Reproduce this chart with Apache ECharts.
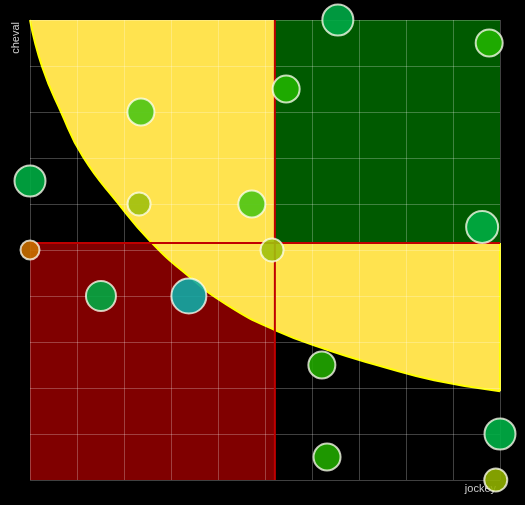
<!DOCTYPE html>
<html>
<head>
<meta charset="utf-8">
<script src="https://cdn.jsdelivr.net/npm/echarts@6/dist/echarts.min.js"></script>
<style>html,body{margin:0;padding:0;background:#000;}#c{width:525px;height:505px;}</style>
</head>
<body>
<div id="c"></div>
<script>
// axis names
var xName = 'jockey';
var yName = 'cheval';
// split thresholds
var splitX = 5.21;
var splitY = 5.15;
// frontier curve
var curveX = [0, 0.26, 0.66, 1.13, 1.87, 2.55, 3.34, 4.2, 5.21, 6.32, 7.45, 8.6, 10];
var curveY = [10, 8.98, 8.0, 7.02, 6.02, 5.2, 4.46, 3.8, 3.26, 2.83, 2.48, 2.17, 1.93];
// scatter points
var pointX = [6.55, 9.77, 5.45, 2.36, 0, 2.32, 4.72, 9.62, 0, 5.15, 1.51, 3.38, 6.21, 10, 6.32, 9.91];
var pointY = [10, 9.5, 8.5, 8.0, 6.5, 6.0, 6.0, 5.5, 5.0, 5.0, 4.0, 4.0, 2.5, 1.0, 0.5, 0];
var pointSize = [31, 27, 27, 27, 31, 23, 27, 32, 19, 23, 30, 35, 27, 31, 27, 23];
var pointColor = ['#00a846', '#21b300', '#21b300', '#4cc414', '#00ac43', '#a0bf0d', '#4cc414', '#00ac43',
                  '#c86e00', '#a0bf0d', '#00a843', '#10aaa5', '#21a700', '#00b046', '#21a700', '#90b000'];

var curveData = curveX.map(function (x, i) { return [x, curveY[i]]; });
var pointData = pointX.map(function (x, i) {
  return { value: [x, pointY[i]], symbolSize: pointSize[i], itemStyle: { color: pointColor[i] } };
});

function rectItem(params, api) {
  var p0 = api.coord([api.value(0), api.value(1)]);
  var p1 = api.coord([api.value(2), api.value(3)]);
  return {
    type: 'rect',
    shape: { x: Math.min(p0[0], p1[0]), y: Math.min(p0[1], p1[1]), width: Math.abs(p1[0] - p0[0]), height: Math.abs(p1[1] - p0[1]) },
    style: { fill: api.visual('color') }
  };
}

var chart = echarts.init(document.getElementById('c'));
chart.setOption({
  backgroundColor: '#000000',
  animation: false,
  grid: { left: 30, right: 25, top: 20, bottom: 25 },
  xAxis: {
    type: 'value', min: 0, max: 10, interval: 1, z: 4,
    axisLine: { show: false }, axisTick: { show: false }, axisLabel: { show: false },
    splitLine: { show: true, lineStyle: { color: 'rgba(255,255,255,0.25)', width: 1 } }
  },
  yAxis: {
    type: 'value', min: 0, max: 10, interval: 1, z: 4,
    axisLine: { show: false }, axisTick: { show: false }, axisLabel: { show: false },
    splitLine: { show: true, lineStyle: { color: 'rgba(255,255,255,0.25)', width: 1 } }
  },
  graphic: [
    { type: 'text', x: 21, y: 22, rotation: Math.PI / 2, z: 0,
      style: { text: yName, fill: '#cccccc', font: '11px "Liberation Sans", Arial, sans-serif', align: 'right', verticalAlign: 'bottom' } },
    { type: 'text', x: 496, y: 489, z: 0,
      style: { text: xName, fill: '#cccccc', font: '11px "Liberation Sans", Arial, sans-serif', align: 'right', verticalAlign: 'middle' } }
  ],
  series: [
    {
      type: 'custom', z: 1, renderItem: rectItem, itemStyle: { color: '#800000' },
      encode: { x: [0, 2], y: [1, 3] },
      data: [[0, 0, splitX, splitY]], silent: true
    },
    {
      type: 'line', z: 2, data: curveData, smooth: 0.5, showSymbol: false,
      lineStyle: { color: '#ffff00', width: 2 },
      areaStyle: { color: '#ffe34f', opacity: 1, origin: 'end' }
    },
    {
      type: 'line', z: 2, data: [[10, curveY[curveY.length - 1]], [10, splitY]], showSymbol: false,
      lineStyle: { color: '#ffff00', width: 2 }
    },
    {
      type: 'custom', z: 3, renderItem: rectItem, itemStyle: { color: '#005a00' },
      encode: { x: [0, 2], y: [1, 3] },
      data: [[splitX, splitY, 10, 10]], silent: true
    },
    {
      type: 'line', z: 5, data: [[splitX, 0], [splitX, 10]], showSymbol: false,
      lineStyle: { color: '#c00000', width: 2 }
    },
    {
      type: 'line', z: 5, data: [[0, splitY], [10, splitY]], showSymbol: false,
      lineStyle: { color: '#c00000', width: 2 }
    },
    {
      type: 'scatter', z: 6, clip: false, data: pointData,
      itemStyle: { opacity: 0.9, borderColor: 'rgba(255,255,240,0.85)', borderWidth: 2 }
    }
  ]
});
</script>
</body>
</html>
